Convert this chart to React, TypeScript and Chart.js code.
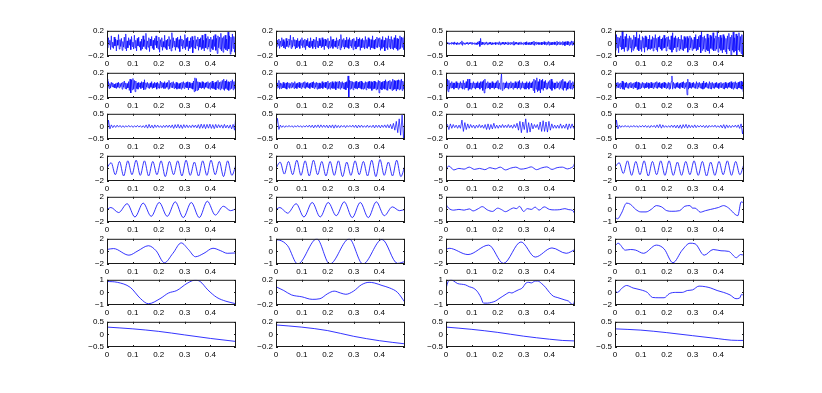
import React, { useEffect, useRef } from "react";
import { Chart, registerables } from "chart.js";
Chart.register(...registerables);

// ---------------- data ----------------
const XMAX = 0.499;
const X_TICKS = [0, 0.1, 0.2, 0.3, 0.4];
const X_TICK_LABELS = ["0", "0.1", "0.2", "0.3", "0.4"];

const L01 = ["−0.1", "0", "0.1"];
const L02 = ["−0.2", "0", "0.2"];
const L05 = ["−0.5", "0", "0.5"];
const L1 = ["−1", "0", "1"];
const L2 = ["−2", "0", "2"];
const L5 = ["−5", "0", "5"];

// y-axis limits (row-major, 8 rows x 4 columns)
const Y_LIMITS = [
  [0.2, 0.2, 0.5, 0.2],
  [0.2, 0.2, 0.1, 0.2],
  [0.5, 0.5, 0.2, 0.5],
  [2, 2, 5, 2],
  [2, 2, 5, 1],
  [2, 1, 2, 2],
  [1, 0.2, 1, 2],
  [0.5, 0.2, 0.5, 0.5],
];
const Y_TICK_LABELS = [
  [L02, L02, L05, L02],
  [L02, L02, L01, L02],
  [L05, L05, L02, L05],
  [L2, L2, L5, L2],
  [L2, L2, L5, L1],
  [L2, L1, L2, L2],
  [L1, L02, L1, L2],
  [L05, L02, L05, L05],
];

// row 1 (evenly sampled)
const R1C1 = [
  0.03,-0.07,0.09,-0.02,0.05,-0.1,0.12,-0.06,0.02,-0.08,
  0.1,-0.04,0.07,-0.12,0.05,-0.03,0.14,-0.09,0.06,-0.05,
  0.08,-0.11,0.03,-0.06,0.1,-0.08,0.15,-0.12,0.04,-0.07,
  0.09,-0.03,0.06,-0.1,0.11,-0.05,0.02,-0.09,0.13,-0.07,
  0.05,-0.12,0.08,-0.04,0.1,-0.06,0.03,-0.11,0.07,-0.09,
  0.12,-0.05,0.06,-0.08,0.16,-0.1,0.04,-0.06,0.09,-0.13,
  0.07,-0.04,0.11,-0.08,0.05,-0.1,0.08,-0.03,0.12,-0.07,
  0.04,-0.09,0.1,-0.14,0.06,-0.05,0.09,-0.11,0.03,-0.06,
  0.13,-0.08,0.05,-0.1,0.07,-0.04,0.11,-0.09,0.06,-0.12,
  0.17,-0.07,0.09,-0.05,0.04,-0.11,0.08,-0.06,0.1,-0.08,
  0.06,-0.13,0.12,-0.04,0.07,-0.09,0.05,-0.07,0.14,-0.1,
  0.08,-0.05,0.1,-0.12,0.04,-0.08,0.09,-0.06,0.11,-0.15,
  0.05,-0.07,0.12,-0.09,0.06,-0.04,0.1,-0.11,0.07,-0.06,
  0.09,-0.1,0.13,-0.08,0.05,-0.12,0.15,-0.07,0.08,-0.09,
  0.11,-0.06,0.07,-0.13,0.1,-0.08,0.06,-0.1,0.12,-0.05,
  0.14,-0.11,0.08,-0.16,0.12,-0.07,0.1,-0.09,0.16,-0.12,
  0.09,-0.14,0.11,-0.08,0.13,-0.1,0.07,-0.12,0.18,-0.09,
  0.12,-0.17,0.1,-0.13,0.15,-0.08,0.11,-0.14,0.09,0.04,
];
const R1C2 = [
  0.02,-0.06,0.05,-0.03,0.07,-0.08,0.04,-0.05,0.09,-0.04,
  0.06,-0.07,0.03,-0.09,0.08,-0.05,0.04,-0.06,0.07,-0.03,
  0.13,-0.08,0.05,-0.06,0.1,-0.04,0.06,-0.09,0.05,-0.07,
  0.08,-0.05,0.04,-0.08,0.06,-0.03,0.09,-0.07,0.05,-0.06,
  0.07,-0.1,0.05,-0.04,0.08,-0.06,0.03,-0.07,0.09,-0.05,
  0.04,-0.08,0.07,-0.05,0.06,-0.09,0.1,-0.06,0.04,-0.07,
  0.08,-0.04,0.05,-0.07,0.09,-0.05,0.06,-0.1,0.07,-0.04,
  0.05,-0.06,0.08,-0.09,0.04,-0.07,0.11,-0.05,0.06,-0.08,
  0.07,-0.05,0.04,-0.06,0.09,-0.08,0.05,-0.04,0.07,-0.1,
  0.14,-0.07,0.06,-0.05,0.08,-0.09,0.05,-0.06,0.1,-0.07,
  0.06,-0.08,0.09,-0.04,0.05,-0.07,0.07,-0.1,0.08,-0.05,
  0.04,-0.09,0.1,-0.06,0.07,-0.05,0.09,-0.11,0.06,-0.07,
  0.08,-0.06,0.05,-0.09,0.11,-0.07,0.06,-0.08,0.09,-0.05,
  0.07,-0.1,0.06,-0.07,0.12,-0.08,0.05,-0.09,0.07,-0.06,
  0.1,-0.07,0.08,-0.05,0.09,-0.11,0.06,-0.08,0.11,-0.06,
  0.05,-0.12,0.09,-0.07,0.08,-0.1,0.12,-0.06,0.07,-0.09,
  0.11,-0.08,0.06,-0.1,0.09,-0.07,0.13,-0.09,0.08,-0.11,
  0.07,-0.09,0.12,-0.08,0.1,-0.06,0.09,-0.1,0.11,-0.04,
];
const R1C3 = [
  0.02,-0.03,0.04,-0.02,0.03,-0.04,0.02,-0.03,0.05,-0.02,
  0.03,-0.04,0.06,-0.03,0.02,-0.05,0.04,-0.03,0.02,-0.04,
  0.05,-0.03,0.1,-0.08,0.04,-0.03,0.02,-0.04,0.03,-0.02,
  0.04,-0.05,0.03,-0.02,0.04,-0.03,0.05,-0.04,0.02,-0.03,
  0.03,-0.04,0.02,-0.05,0.06,-0.03,0.09,-0.12,0.2,-0.06,
  0.05,-0.04,0.03,-0.05,0.04,-0.03,0.06,-0.05,0.03,-0.04,
  0.04,-0.03,0.05,-0.06,0.03,-0.04,0.02,-0.03,0.04,-0.05,
  0.03,-0.02,0.04,-0.05,0.07,-0.06,0.03,-0.04,0.05,-0.03,
  0.04,-0.06,0.05,-0.03,0.02,-0.04,0.06,-0.05,0.03,-0.04,
  0.05,-0.03,0.04,-0.06,0.08,-0.07,0.04,-0.03,0.05,-0.04,
  0.03,-0.05,0.04,-0.03,0.06,-0.04,0.02,-0.05,0.04,-0.03,
  0.05,-0.06,0.07,-0.04,0.03,-0.05,0.04,-0.06,0.05,-0.04,
  0.06,-0.05,0.09,-0.08,0.05,-0.04,0.06,-0.03,0.04,-0.05,
  0.03,-0.04,0.05,-0.06,0.04,-0.03,0.07,-0.05,0.04,-0.06,
  0.05,-0.04,0.08,-0.07,0.06,-0.05,0.04,-0.06,0.05,-0.04,
  0.06,-0.05,0.04,-0.07,0.09,-0.06,0.05,-0.04,0.07,-0.05,
  0.04,-0.06,0.08,-0.05,0.06,-0.09,0.07,-0.05,0.08,-0.06,
  0.07,-0.08,0.06,-0.05,0.1,-0.07,0.08,-0.06,0.09,0.04,
];
const R1C4 = [
  0.06,-0.11,0.14,-0.07,0.1,-0.15,0.09,-0.05,0.12,-0.1,
  0.2,-0.09,0.07,-0.13,0.11,-0.06,0.15,-0.12,0.08,-0.1,
  0.12,-0.07,0.09,-0.14,0.06,-0.11,0.13,-0.08,0.1,-0.05,
  0.18,-0.1,0.08,-0.12,0.14,-0.09,0.05,-0.13,0.11,-0.07,
  0.09,-0.14,0.12,-0.06,0.1,-0.11,0.07,-0.09,0.13,-0.1,
  0.06,-0.08,0.11,-0.12,0.09,-0.07,0.14,-0.1,0.08,-0.13,
  0.1,-0.06,0.12,-0.09,0.07,-0.11,0.09,-0.08,0.13,-0.07,
  0.08,-0.12,0.1,-0.05,0.11,-0.09,0.06,-0.1,0.12,-0.14,
  0.17,-0.1,0.09,-0.07,0.12,-0.13,0.08,-0.06,0.1,-0.11,
  0.07,-0.09,0.13,-0.1,0.06,-0.12,0.11,-0.08,0.09,-0.07,
  0.11,-0.14,0.08,-0.1,0.12,-0.07,0.09,-0.11,0.06,-0.09,
  0.1,-0.08,0.14,-0.12,0.07,-0.1,0.11,-0.06,0.13,-0.15,
  0.19,-0.11,0.1,-0.09,0.12,-0.13,0.08,-0.1,0.15,-0.12,
  0.09,-0.16,0.13,-0.08,0.11,-0.1,0.17,-0.12,0.08,-0.11,
  0.12,-0.09,0.2,-0.14,0.1,-0.08,0.13,-0.11,0.09,-0.15,
  0.14,-0.1,0.11,-0.13,0.08,-0.17,0.12,-0.09,0.16,-0.12,
  0.1,-0.2,0.13,-0.11,0.18,-0.14,0.09,-0.12,0.15,-0.19,
  0.12,-0.1,0.17,-0.13,0.11,-0.16,0.14,-0.2,0.13,0.07,
];

// row 2 (evenly sampled)
const R2C1 = [
  0.1,-0.03,0.06,-0.05,0.03,-0.04,0.05,-0.02,0.04,-0.03,
  0.02,-0.04,0.03,-0.05,0.04,-0.03,0.05,-0.04,0.03,-0.02,
  0.04,-0.06,0.05,-0.03,0.07,-0.05,0.04,-0.06,0.03,-0.04,
  0.06,-0.08,0.1,-0.12,0.09,-0.07,0.11,-0.06,0.08,-0.1,
  0.07,-0.05,0.04,-0.06,0.05,-0.03,0.04,-0.05,0.06,-0.04,
  0.05,-0.07,0.09,-0.06,0.04,-0.03,0.05,-0.04,0.03,-0.05,
  0.04,-0.03,0.06,-0.05,0.03,-0.04,0.05,-0.03,0.04,-0.06,
  0.05,-0.04,0.03,-0.05,0.07,-0.04,0.05,-0.03,0.04,-0.05,
  0.06,-0.05,0.04,-0.03,0.05,-0.06,0.08,-0.05,0.04,-0.03,
  0.05,-0.04,0.06,-0.05,0.03,-0.04,0.05,-0.06,0.04,-0.05,
  0.03,-0.05,0.04,-0.06,0.05,-0.04,0.06,-0.05,0.04,-0.03,
  0.05,-0.04,0.06,-0.07,0.05,-0.04,0.03,-0.05,0.04,-0.06,
  0.07,-0.1,0.12,-0.09,0.11,-0.08,0.06,-0.07,0.05,-0.04,
  0.04,-0.05,0.06,-0.04,0.05,-0.06,0.04,-0.03,0.05,-0.04,
  0.06,-0.05,0.04,-0.06,0.05,-0.04,0.07,-0.05,0.04,-0.06,
  0.05,-0.07,0.06,-0.04,0.08,-0.06,0.05,-0.07,0.06,-0.05,
  0.08,-0.06,0.1,-0.08,0.07,-0.05,0.09,-0.07,0.06,-0.08,
  0.05,-0.06,0.07,-0.05,0.09,-0.07,0.06,-0.05,0.07,-0.03,
];
const R2C2 = [
  0.03,-0.05,0.04,-0.03,0.08,-0.06,0.04,-0.05,0.03,-0.04,
  0.05,-0.04,0.03,-0.05,0.04,-0.06,0.05,-0.03,0.04,-0.05,
  0.03,-0.04,0.05,-0.03,0.04,-0.05,0.06,-0.04,0.03,-0.05,
  0.04,-0.03,0.05,-0.04,0.03,-0.05,0.04,-0.03,0.05,-0.04,
  0.06,-0.05,0.04,-0.03,0.05,-0.04,0.03,-0.05,0.04,-0.03,
  0.05,-0.04,0.06,-0.05,0.04,-0.03,0.05,-0.06,0.04,-0.05,
  0.04,-0.05,0.03,-0.04,0.06,-0.05,0.04,-0.03,0.05,-0.04,
  0.05,-0.06,0.07,-0.05,0.04,-0.06,0.05,-0.04,0.06,-0.05,
  0.04,-0.05,0.06,-0.07,0.05,-0.04,0.06,-0.05,0.07,-0.06,
  0.05,-0.04,0.06,-0.05,0.04,-0.06,0.05,-0.07,0.06,-0.04,
  0.15,-0.2,0.08,-0.06,0.07,-0.05,0.06,-0.07,0.05,-0.04,
  0.06,-0.05,0.07,-0.06,0.05,-0.04,0.06,-0.05,0.07,-0.06,
  0.05,-0.06,0.04,-0.05,0.06,-0.07,0.05,-0.04,0.06,-0.05,
  0.07,-0.05,0.06,-0.08,0.05,-0.06,0.07,-0.05,0.06,-0.07,
  0.05,-0.06,0.08,-0.12,0.07,-0.06,0.05,-0.07,0.06,-0.05,
  0.07,-0.06,0.09,-0.07,0.06,-0.08,0.07,-0.05,0.08,-0.06,
  0.06,-0.08,0.1,-0.07,0.08,-0.06,0.07,-0.09,0.08,-0.06,
  0.09,-0.07,0.08,-0.06,0.1,-0.08,0.07,-0.06,0.05,-0.03,
];
const R2C3 = [
  0.02,-0.04,0.05,-0.05,0.04,-0.03,0.02,-0.02,0.03,-0.02,
  0.02,-0.03,0.02,-0.02,0.03,-0.02,0.02,-0.03,0.02,-0.02,
  0.03,-0.02,0.02,-0.03,0.04,-0.03,0.02,-0.02,0.03,-0.02,
  0.05,-0.04,0.05,-0.03,0.02,-0.03,0.02,-0.02,0.03,-0.02,
  0.02,-0.03,0.02,-0.02,0.03,-0.02,0.02,-0.03,0.03,-0.02,
  0.03,-0.04,0.04,-0.06,0.05,-0.03,0.02,-0.02,0.03,-0.02,
  0.02,-0.03,0.02,-0.02,0.03,-0.02,0.02,-0.03,0.02,-0.02,
  0.03,-0.02,0.04,-0.03,0.02,-0.03,0.04,0.09,-0.04,0.02,
  0.02,-0.03,0.02,-0.02,0.03,-0.02,0.02,-0.03,0.02,-0.02,
  0.03,-0.02,0.02,-0.03,0.02,-0.02,0.03,-0.02,0.02,-0.03,
  0.03,-0.02,0.04,-0.03,0.02,-0.02,0.03,-0.02,0.02,-0.03,
  0.02,-0.03,0.03,-0.02,0.02,-0.03,0.03,-0.02,0.02,-0.02,
  0.03,-0.04,0.05,-0.06,0.04,-0.03,0.06,-0.05,0.03,-0.04,
  0.05,-0.06,0.04,-0.03,0.05,-0.04,0.03,-0.02,0.04,-0.03,
  0.02,-0.03,0.03,-0.02,0.04,-0.03,0.05,-0.04,0.03,-0.02,
  0.02,-0.03,0.02,-0.02,0.03,-0.02,0.02,-0.03,0.03,-0.02,
  0.04,-0.03,0.05,-0.04,0.03,-0.02,0.03,-0.04,0.02,-0.03,
  0.03,-0.02,0.04,-0.03,0.02,-0.03,0.03,-0.02,0.02,-0.01,
];
const R2C4 = [
  0.03,-0.05,0.04,-0.03,0.05,-0.04,0.03,-0.05,0.04,-0.03,
  0.07,-0.06,0.05,-0.07,0.04,-0.03,0.05,-0.04,0.03,-0.05,
  0.04,-0.03,0.05,-0.04,0.03,-0.05,0.04,-0.03,0.05,-0.04,
  0.06,-0.07,0.05,-0.06,0.04,-0.05,0.03,-0.04,0.05,-0.03,
  0.04,-0.05,0.03,-0.04,0.05,-0.03,0.04,-0.05,0.03,-0.04,
  0.05,-0.04,0.03,-0.05,0.04,-0.03,0.05,-0.04,0.06,-0.05,
  0.04,-0.03,0.05,-0.04,0.03,-0.05,0.04,-0.03,0.05,-0.04,
  0.04,-0.05,0.03,-0.04,0.05,-0.06,0.04,-0.05,0.06,0.15,
  -0.06,0.05,-0.04,0.03,-0.05,0.04,-0.03,0.05,-0.04,0.03,
  -0.05,0.04,-0.03,0.05,-0.04,0.06,-0.05,0.04,-0.03,0.05,
  -0.15,0.1,-0.06,0.05,-0.04,0.03,-0.05,0.04,-0.03,0.05,
  -0.04,0.03,-0.05,0.06,-0.05,0.04,-0.03,0.05,-0.04,0.03,
  -0.05,0.04,-0.06,0.07,-0.05,0.04,-0.03,0.05,-0.04,0.03,
  -0.05,0.06,-0.05,0.04,-0.06,0.05,-0.04,0.03,-0.05,0.04,
  -0.03,0.05,-0.04,0.03,-0.05,0.04,-0.03,0.05,-0.04,0.03,
  -0.05,0.04,-0.06,0.05,-0.04,0.03,-0.05,0.04,-0.03,0.05,
  -0.04,0.06,-0.05,0.04,-0.06,0.05,-0.04,0.06,-0.05,0.04,
  -0.06,0.05,-0.04,0.06,-0.05,0.07,-0.06,0.05,-0.1,0.15,
];

// row 3 (evenly sampled)
const R3C1 = [-0.35,0.25,-0.1,0.06,-0.05,0.04,-0.04,0.05,-0.03,0.04,-0.04,0.03,-0.04,0.03,-0.03,0.04,-0.03,0.03,-0.04,0.03,-0.03,0.04,-0.03,0.03,-0.04,0.03,-0.05,0.06,-0.07,0.08,-0.06,0.05,-0.07,0.06,-0.04,0.05,-0.04,0.03,-0.05,0.04,-0.04,0.05,-0.04,0.05,-0.05,0.06,-0.08,0.07,-0.06,0.08,-0.07,0.06,-0.08,0.07,-0.05,0.06,-0.05,0.04,-0.05,0.06,-0.04,0.05,-0.06,0.07,-0.08,0.09,-0.07,0.08,-0.09,0.08,-0.07,0.09,-0.08,0.07,-0.09,0.08,-0.06,0.07,-0.05,0.06,-0.07,0.08,-0.06,0.05,-0.07,0.06,-0.1,0.08,-0.15,0.5];
const R3C2 = [-0.05,0.32,-0.12,0.05,-0.04,0.03,-0.04,0.03,-0.03,0.04,-0.03,0.03,-0.04,0.03,-0.03,0.04,-0.03,0.03,-0.04,0.03,-0.03,0.04,-0.03,0.05,-0.04,0.05,-0.06,0.05,-0.04,0.06,-0.05,0.06,-0.04,0.05,-0.04,0.05,-0.06,0.05,-0.05,0.06,-0.07,0.06,-0.05,0.04,-0.05,0.04,-0.03,0.04,-0.05,0.04,-0.03,0.04,-0.03,0.05,-0.04,0.05,-0.06,0.05,-0.04,0.05,-0.04,0.03,-0.04,0.05,-0.04,0.03,-0.04,0.05,-0.06,0.05,-0.04,0.05,-0.06,0.05,-0.04,0.06,-0.05,0.07,-0.06,0.08,-0.1,0.12,-0.15,0.2,-0.25,0.3,-0.35,0.45,-0.5,0.5];
const R3C3 = [0.0,0.03,-0.05,0.04,-0.03,0.03,-0.02,0.02,-0.03,0.02,-0.03,0.1,-0.08,0.06,-0.05,0.04,-0.03,0.03,-0.02,0.02,-0.03,0.02,-0.02,0.03,-0.02,0.02,-0.03,0.03,-0.05,0.04,-0.05,0.03,-0.04,0.05,-0.03,0.02,-0.03,0.02,-0.02,0.03,-0.02,0.02,-0.02,0.03,-0.02,0.02,-0.03,0.03,-0.02,0.05,-0.06,0.08,-0.1,0.07,-0.05,0.12,-0.1,0.06,-0.09,0.05,-0.04,0.03,-0.02,0.03,-0.05,0.07,-0.08,0.09,-0.08,0.07,-0.09,0.08,-0.06,0.04,-0.03,0.02,-0.03,0.02,-0.03,0.04,-0.03,0.02,-0.03,0.04,-0.05,0.04,-0.03,0.04,-0.03,0.02];
const R3C4 = [-0.3,0.25,-0.1,0.05,-0.04,0.03,-0.03,0.04,-0.03,0.03,-0.04,0.03,-0.03,0.04,-0.03,0.03,-0.04,0.03,-0.03,0.04,-0.03,0.04,-0.04,0.03,-0.05,0.04,-0.03,0.04,-0.05,0.06,-0.05,0.08,-0.07,0.06,-0.04,0.03,-0.04,0.03,-0.04,0.05,-0.04,0.05,-0.06,0.05,-0.07,0.06,-0.08,0.07,-0.05,0.08,-0.07,0.06,-0.05,0.04,-0.05,0.06,-0.05,0.04,-0.03,0.04,-0.03,0.04,-0.05,0.04,-0.05,0.04,-0.03,0.04,-0.03,0.05,-0.04,0.03,-0.04,0.05,-0.06,0.07,-0.08,0.06,-0.05,0.04,-0.05,0.04,-0.03,0.05,-0.04,0.06,-0.08,0.1,-0.3,0.1];

// row 4 (evenly sampled, peaks / troughs)
const R4C1 = [0.1,0.9,-1.0,1.1,-1.2,1.2,-1.0,1.3,-1.1,1.2,-1.2,1.1,-1.0,1.2,-1.3,1.1,-1.0,1.2,-1.2,1.3,-1.1,1.0,-1.2,1.2,-1.1,1.3,-1.0,1.1,-1.3,1.2,-1.1,0.6];
const R4C2 = [0.0,1.0,-0.9,1.1,-1.0,1.3,-1.1,1.2,-1.2,1.3,-1.0,1.1,-1.2,1.1,-1.1,1.2,-1.3,1.0,-1.1,1.2,-1.0,1.1,-1.2,1.3,-1.3,1.4,-1.1,1.0,-1.2,1.3,-1.3,0.5];
const R4C3: [number, number][] = [[0,-2.6],[0.004,0.2],[0.012,0.9],[0.03,-0.6],[0.05,0.0],[0.07,-0.3],[0.09,0.5],[0.11,-0.4],[0.13,0.0],[0.15,-0.5],[0.17,0.3],[0.19,-0.2],[0.21,0.5],[0.23,-0.6],[0.25,0.1],[0.27,0.5],[0.29,-0.3],[0.31,0.0],[0.33,0.6],[0.35,-0.5],[0.37,0.2],[0.39,0.6],[0.41,-0.4],[0.43,0.3],[0.45,0.5],[0.47,-0.2],[0.485,0.3],[0.493,0.9],[0.499,2.6]];
const R4C4 = [0.2,0.9,-0.8,1.2,-1.1,1.1,-1.0,1.2,-1.2,1.1,-1.0,1.2,-1.1,1.2,-1.1,1.0,-1.1,1.1,-1.0,1.2,-1.1,1.1,-1.2,1.0,-1.1,1.1,-1.0,1.2,-1.1,1.1,-1.0,0.7];

// row 5 ([x, y] key points)
const R5C1: [number, number][] = [[0,0.0],[0.015,0.3],[0.045,-0.5],[0.078,0.9],[0.108,-1.2],[0.14,1.0],[0.171,-1.1],[0.202,1.1],[0.233,-1.1],[0.264,1.2],[0.295,-1.3],[0.326,1.1],[0.357,-1.3],[0.388,1.3],[0.419,-0.9],[0.45,0.5],[0.478,-0.2],[0.499,0.1]];
const R5C2: [number, number][] = [[0,0.0],[0.015,0.3],[0.045,-0.6],[0.078,0.9],[0.108,-1.2],[0.14,1.1],[0.171,-1.2],[0.202,1.1],[0.233,-1.0],[0.264,1.2],[0.295,-1.3],[0.326,1.1],[0.357,-1.3],[0.388,1.2],[0.419,-1.0],[0.45,0.4],[0.478,-0.2],[0.499,0.0]];
const R5C3: [number, number][] = [[0,2.0],[0.01,0.5],[0.03,-0.3],[0.05,0.0],[0.07,-0.3],[0.09,0.2],[0.105,-0.6],[0.125,0.3],[0.14,1.1],[0.16,-0.2],[0.18,-0.8],[0.2,0.5],[0.215,-0.1],[0.23,-0.9],[0.25,0.1],[0.262,0.6],[0.272,0.3],[0.285,1.2],[0.3,-0.8],[0.315,0.3],[0.33,0.0],[0.345,0.9],[0.36,-0.3],[0.38,1.0],[0.4,0.0],[0.42,-0.2],[0.44,-0.1],[0.46,0.3],[0.475,-0.1],[0.49,-0.4],[0.499,-2.0]];
const R5C4: [number, number][] = [[0,-0.6],[0.01,-0.75],[0.025,-0.3],[0.045,0.5],[0.06,0.4],[0.08,0.0],[0.1,-0.2],[0.12,-0.2],[0.14,0.0],[0.16,0.3],[0.18,0.2],[0.2,-0.1],[0.22,-0.15],[0.25,-0.1],[0.27,0.25],[0.29,0.3],[0.3,0.1],[0.31,0.1],[0.33,-0.22],[0.35,-0.1],[0.37,0.0],[0.4,0.15],[0.42,0.3],[0.44,0.1],[0.465,-0.4],[0.475,-0.5],[0.488,0.6],[0.499,0.5]];

// row 6
const R6C1: [number, number][] = [[0,0.3],[0.025,0.45],[0.085,-0.6],[0.12,0.1],[0.16,0.9],[0.19,0.1],[0.222,-1.8],[0.255,-0.3],[0.287,1.35],[0.315,0.3],[0.342,-0.85],[0.375,-0.3],[0.41,0.5],[0.44,0.1],[0.465,-0.3],[0.499,-0.25]];
const R6C2: [number, number][] = [[0,0.92],[0.012,0.9],[0.045,0.45],[0.084,-1.0],[0.158,1.0],[0.208,-1.0],[0.283,1.0],[0.336,-1.0],[0.41,0.95],[0.47,-0.95],[0.499,-0.8]];
const R6C3: [number, number][] = [[0,0.3],[0.012,0.5],[0.085,-0.5],[0.165,1.0],[0.222,-1.9],[0.29,1.5],[0.345,-0.9],[0.41,0.55],[0.465,-0.3],[0.499,0.3]];
const R6C4: [number, number][] = [[0,0.9],[0.012,1.3],[0.04,0.2],[0.06,0.3],[0.08,0.2],[0.11,-0.3],[0.16,1.0],[0.19,0.4],[0.224,-1.8],[0.26,0.2],[0.29,1.3],[0.31,1.2],[0.345,-0.6],[0.38,0.3],[0.41,0.1],[0.44,0.0],[0.47,-1.0],[0.485,-0.5],[0.499,-0.6]];

// row 7
const R7C1: [number, number][] = [[0,0.87],[0.04,0.8],[0.09,0.4],[0.13,-0.5],[0.16,-0.9],[0.205,-0.5],[0.238,-0.05],[0.27,0.15],[0.31,0.72],[0.34,0.97],[0.36,0.87],[0.39,0.2],[0.425,-0.4],[0.46,-0.7],[0.499,-0.9]];
const R7C2: [number, number][] = [[0,0.09],[0.03,0.03],[0.06,-0.04],[0.1,-0.07],[0.14,-0.11],[0.17,-0.1],[0.2,-0.02],[0.225,0.02],[0.25,-0.01],[0.27,-0.03],[0.3,0.02],[0.33,0.12],[0.36,0.16],[0.38,0.15],[0.41,0.11],[0.44,0.07],[0.47,0.0],[0.499,-0.16]];
const R7C3: [number, number][] = [[0,0.3],[0.008,0.85],[0.02,1.0],[0.03,0.9],[0.045,0.7],[0.06,0.65],[0.075,0.6],[0.09,0.45],[0.105,0.35],[0.12,0.1],[0.135,-0.4],[0.145,-0.85],[0.16,-0.85],[0.175,-0.8],[0.19,-0.7],[0.205,-0.5],[0.22,-0.3],[0.235,-0.1],[0.245,0.0],[0.255,-0.05],[0.265,0.05],[0.28,0.2],[0.295,0.35],[0.31,0.75],[0.32,0.8],[0.33,0.75],[0.345,0.9],[0.355,0.9],[0.37,0.7],[0.385,0.4],[0.4,0.0],[0.415,-0.3],[0.43,-0.4],[0.445,-0.5],[0.46,-0.6],[0.475,-0.7],[0.488,-0.95],[0.494,-0.9],[0.499,-0.45]];
const R7C4: [number, number][] = [[0,0.2],[0.01,0.0],[0.025,0.6],[0.045,1.1],[0.07,0.7],[0.1,0.4],[0.125,0.0],[0.145,-0.8],[0.17,-0.85],[0.19,-0.85],[0.21,-0.2],[0.235,0.0],[0.26,0.0],[0.28,0.3],[0.3,0.4],[0.325,1.0],[0.35,0.9],[0.37,0.7],[0.395,0.3],[0.42,0.0],[0.445,-0.4],[0.468,-1.0],[0.482,-0.9],[0.49,-0.3],[0.499,-0.6]];

// row 8
const R8C1: [number, number][] = [[0,0.29],[0.1,0.22],[0.2,0.12],[0.3,-0.02],[0.4,-0.16],[0.499,-0.28]];
const R8C2: [number, number][] = [[0,0.15],[0.1,0.115],[0.2,0.06],[0.3,-0.03],[0.4,-0.1],[0.499,-0.15]];
const R8C3: [number, number][] = [[0,0.29],[0.1,0.2],[0.2,0.08],[0.3,-0.07],[0.4,-0.19],[0.45,-0.24],[0.499,-0.26]];
const R8C4: [number, number][] = [[0,0.22],[0.1,0.17],[0.2,0.07],[0.3,-0.05],[0.4,-0.17],[0.45,-0.23],[0.499,-0.24]];

const SERIES = [
  [R1C1, R1C2, R1C3, R1C4],
  [R2C1, R2C2, R2C3, R2C4],
  [R3C1, R3C2, R3C3, R3C4],
  [R4C1, R4C2, R4C3, R4C4],
  [R5C1, R5C2, R5C3, R5C4],
  [R6C1, R6C2, R6C3, R6C4],
  [R7C1, R7C2, R7C3, R7C4],
  [R8C1, R8C2, R8C3, R8C4],
];
const SMOOTH_ROWS = [false, false, false, true, true, true, true, true];

// ---------------- layout / style ----------------
const COL_LEFT = [107, 276, 446, 615];
const ROW_TOP = [29, 71, 112, 154, 195, 237, 278, 320];
const PLOT_W = 129;
const PLOT_H = 27;
const PAD_L = 32;
const PAD_T = 6;
const PAD_R = 8;
const PAD_B = 14;
const CW = PAD_L + PLOT_W + PAD_R;
const CH = PAD_T + PLOT_H + PAD_B;
const FONT = { family: "'Liberation Sans', Arial, Helvetica, sans-serif", size: 8 };
const LINE_COLOR = "#0000ff";
const AXIS_COLOR = "#1a1a1a";

type Series = number[] | [number, number][];

function toPoints(s: Series) {
  if (s.length && Array.isArray(s[0])) {
    return (s as [number, number][]).map(([x, y]) => ({ x, y }));
  }
  const ys = s as number[];
  return ys.map((y, i) => ({ x: (i * XMAX) / (ys.length - 1), y }));
}

const framePlugin = {
  id: "matlabFrame",
  afterDraw(chart: any) {
    const { ctx, chartArea: a, scales } = chart;
    const tick = 2;
    ctx.save();
    ctx.strokeStyle = AXIS_COLOR;
    ctx.lineWidth = 1;
    ctx.strokeRect(a.left + 0.5, a.top + 0.5, a.right - a.left - 1, a.bottom - a.top - 1);
    ctx.beginPath();
    for (const t of scales.x.ticks) {
      const px = Math.round(scales.x.getPixelForValue(t.value)) + 0.5;
      ctx.moveTo(px, a.bottom);
      ctx.lineTo(px, a.bottom - tick);
      ctx.moveTo(px, a.top);
      ctx.lineTo(px, a.top + tick);
    }
    for (const t of scales.y.ticks) {
      const py = Math.round(scales.y.getPixelForValue(t.value)) + 0.5;
      ctx.moveTo(a.left, py);
      ctx.lineTo(a.left + tick, py);
      ctx.moveTo(a.right, py);
      ctx.lineTo(a.right - tick, py);
    }
    ctx.stroke();
    ctx.restore();
  },
};

export default function App() {
  const refs = useRef<(HTMLCanvasElement | null)[]>([]);

  useEffect(() => {
    const charts: Chart[] = [];
    SERIES.forEach((row, r) => {
      row.forEach((series, c) => {
        const canvas = refs.current[r * 4 + c];
        if (!canvas) return;
        const lim = Y_LIMITS[r][c];
        const labels = Y_TICK_LABELS[r][c];
        const smooth = SMOOTH_ROWS[r];
        const chart = new Chart(canvas, {
          type: "line",
          data: {
            datasets: [
              {
                data: toPoints(series as Series),
                borderColor: LINE_COLOR,
                borderWidth: smooth ? 0.8 : 0.7,
                pointRadius: 0,
                fill: false,
                tension: 0,
                cubicInterpolationMode: smooth ? "monotone" : "default",
              } as any,
            ],
          },
          options: {
            animation: false,
            responsive: false,
            events: [],
            layout: { padding: { top: PAD_T, right: PAD_R, left: 0, bottom: 0 } },
            plugins: { legend: { display: false }, tooltip: { enabled: false } },
            scales: {
              x: {
                type: "linear",
                min: 0,
                max: XMAX,
                grid: { display: false, drawTicks: false },
                border: { display: false },
                afterBuildTicks: (s: any) => {
                  s.ticks = X_TICKS.map((v) => ({ value: v }));
                },
                afterFit: (s: any) => {
                  s.height = PAD_B;
                },
                ticks: {
                  autoSkip: false,
                  maxRotation: 0,
                  minRotation: 0,
                  padding: 3,
                  color: "#000",
                  font: FONT,
                  callback: (_v: any, i: number) => X_TICK_LABELS[i],
                },
              },
              y: {
                type: "linear",
                min: -lim,
                max: lim,
                grid: { display: false, drawTicks: false },
                border: { display: false },
                afterBuildTicks: (s: any) => {
                  s.ticks = [-lim, 0, lim].map((v) => ({ value: v }));
                },
                afterFit: (s: any) => {
                  s.width = PAD_L;
                },
                ticks: {
                  autoSkip: false,
                  padding: 3,
                  color: "#000",
                  font: FONT,
                  callback: (_v: any, i: number) => labels[i],
                },
              },
            },
          } as any,
          plugins: [framePlugin],
        });
        charts.push(chart);
      });
    });
    return () => charts.forEach((ch) => ch.destroy());
  }, []);

  const canvases: React.ReactNode[] = [];
  for (let r = 0; r < 8; r++) {
    for (let c = 0; c < 4; c++) {
      const idx = r * 4 + c;
      canvases.push(
        <canvas
          key={idx}
          ref={(el) => {
            refs.current[idx] = el;
          }}
          width={CW}
          height={CH}
          style={{
            position: "absolute",
            left: COL_LEFT[c] - PAD_L,
            top: ROW_TOP[r] - PAD_T,
            width: CW,
            height: CH,
          }}
        />
      );
    }
  }

  return (
    <div
      style={{
        position: "absolute",
        left: 0,
        top: 0,
        width: 822,
        height: 393,
        background: "#ffffff",
        overflow: "hidden",
      }}
    >
      {canvases}
    </div>
  );
}
